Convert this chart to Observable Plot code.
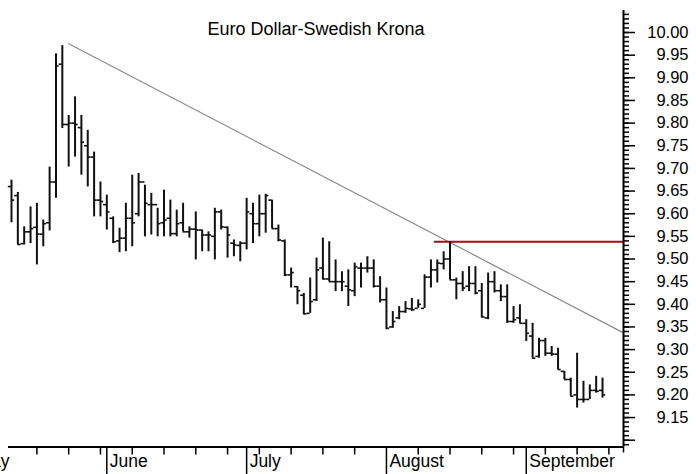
<!DOCTYPE html>
<html>
<head>
<meta charset="utf-8">
<script src="https://cdn.jsdelivr.net/npm/d3@7"></script>
<script src="https://cdn.jsdelivr.net/npm/@observablehq/plot@0.6"></script>
<style>
  html, body { margin: 0; padding: 0; background: #fff; overflow: hidden; }
  #chart svg { display: block; }
</style>
</head>
<body>
<div id="chart"></div>
<script>
// ---- Data (trading-day index 0 = 11 May 2010) ----
const title = "Euro Dollar-Swedish Krona";
const highs  = [9.674,9.647,9.571,9.615,9.623,9.586,9.703,9.953,9.971,9.817,9.858,9.817,9.784,9.736,9.670,9.641,9.593,9.568,9.623,9.685,9.689,9.663,9.645,9.612,9.652,9.630,9.608,9.623,9.571,9.604,9.564,9.560,9.612,9.608,9.571,9.542,9.538,9.634,9.623,9.641,9.643,9.630,9.575,9.542,9.480,9.439,9.424,9.458,9.502,9.546,9.538,9.498,9.472,9.476,9.491,9.491,9.505,9.498,9.461,9.436,9.384,9.395,9.406,9.413,9.410,9.465,9.498,9.498,9.516,9.538,9.458,9.472,9.483,9.483,9.446,9.469,9.472,9.443,9.443,9.395,9.399,9.366,9.358,9.325,9.325,9.307,9.303,9.252,9.237,9.292,9.230,9.222,9.241,9.237];
const lows   = [9.580,9.531,9.531,9.534,9.487,9.527,9.562,9.634,9.788,9.703,9.725,9.685,9.659,9.593,9.593,9.564,9.534,9.514,9.516,9.527,9.593,9.549,9.553,9.549,9.549,9.549,9.549,9.560,9.546,9.498,9.516,9.516,9.498,9.564,9.502,9.505,9.494,9.520,9.534,9.549,9.557,9.567,9.538,9.461,9.436,9.399,9.377,9.380,9.406,9.454,9.450,9.428,9.428,9.395,9.417,9.436,9.469,9.436,9.403,9.344,9.347,9.366,9.380,9.384,9.391,9.391,9.436,9.447,9.476,9.454,9.410,9.428,9.428,9.421,9.370,9.366,9.425,9.406,9.358,9.358,9.358,9.318,9.281,9.281,9.285,9.285,9.256,9.234,9.197,9.171,9.182,9.190,9.204,9.193];
const opens  = [9.660,9.640,9.534,9.560,9.570,9.555,9.580,9.670,9.930,9.797,9.800,9.790,9.750,9.725,9.630,9.620,9.590,9.540,9.546,9.590,9.600,9.670,9.620,9.620,9.580,9.590,9.556,9.580,9.560,9.566,9.564,9.553,9.550,9.604,9.570,9.535,9.530,9.535,9.600,9.578,9.600,9.630,9.567,9.540,9.465,9.439,9.420,9.380,9.410,9.480,9.456,9.450,9.450,9.440,9.430,9.480,9.480,9.480,9.440,9.410,9.350,9.370,9.384,9.390,9.391,9.391,9.460,9.476,9.490,9.500,9.454,9.446,9.440,9.446,9.430,9.370,9.450,9.430,9.417,9.362,9.370,9.358,9.330,9.285,9.320,9.292,9.290,9.252,9.234,9.200,9.190,9.190,9.210,9.210];
const closes = [9.630,9.532,9.560,9.567,9.555,9.578,9.670,9.926,9.797,9.800,9.797,9.758,9.725,9.630,9.627,9.604,9.538,9.546,9.590,9.580,9.670,9.623,9.620,9.578,9.586,9.556,9.578,9.560,9.566,9.564,9.553,9.553,9.604,9.571,9.553,9.531,9.535,9.604,9.578,9.600,9.640,9.567,9.542,9.465,9.470,9.430,9.379,9.406,9.476,9.456,9.450,9.450,9.450,9.432,9.483,9.480,9.480,9.440,9.410,9.347,9.362,9.384,9.391,9.388,9.400,9.460,9.476,9.491,9.500,9.454,9.446,9.436,9.446,9.425,9.372,9.450,9.430,9.417,9.362,9.366,9.358,9.336,9.281,9.320,9.292,9.290,9.256,9.234,9.197,9.190,9.190,9.210,9.208,9.200];

// Trend line and resistance line (index, price)
const trendIdx = [9, 96.3];
const trendVal = [9.975, 9.337];
const resistIdx = [66.6, 96.3];
const resistVal = [9.538, 9.538];

// Axis ticks
const monthIdx = [15, 37, 59, 81];
const monthLabels = ["June", "July", "August", "September"];
const weekIdx = [4, 9, 14, 19, 24, 29, 34, 39, 44, 49, 54, 64, 69, 74, 79, 84, 89, 94];
const yMajor = [9.10,9.15,9.20,9.25,9.30,9.35,9.40,9.45,9.50,9.55,9.60,9.65,9.70,9.75,9.80,9.85,9.90,9.95,10.00];
const yLabels = ["9.15","9.20","9.25","9.30","9.35","9.40","9.45","9.50","9.55","9.60","9.65","9.70","9.75","9.80","9.85","9.90","9.95","10.00"];
const yMinor = d3.range(909, 1005).map(v => v / 100);
const xDomain = [-0.47, 96.3];
const yDomain = [9.085, 10.0486];

// ---- Build tables ----
const bars = highs.map((h, i) => ({i, high: h, low: lows[i], open: opens[i], close: closes[i]}));
const trend = trendIdx.map((x, k) => ({x, y: trendVal[k]}));
const resist = resistIdx.map((x, k) => ({x, y: resistVal[k]}));
const months = monthIdx.map((x, k) => ({x, label: monthLabels[k]}));
const yLab = yLabels.map(s => ({y: +s, label: s}));

const font = "'Liberation Sans', Arial, Helvetica, sans-serif";

const chart = Plot.plot({
  width: 696,
  height: 474,
  marginLeft: 8,
  marginRight: 73,
  marginTop: 10,
  marginBottom: 27.5,
  style: {fontFamily: font, fontSize: "16px", background: "#fff", color: "#000"},
  x: {type: "linear", domain: xDomain, axis: null},
  y: {type: "linear", domain: yDomain, axis: null},
  marks: [
    // resistance and trend lines
    Plot.line(trend, {x: "x", y: "y", stroke: "#8a8a8a", strokeWidth: 1.2}),
    Plot.line(resist, {x: "x", y: "y", stroke: "#a50f15", strokeWidth: 2}),
    // OHLC bars
    Plot.ruleX(bars, {x: "i", y1: "low", y2: "high", stroke: "#111", strokeWidth: 2}),
    Plot.ruleY(bars, {y: "open", x1: d => d.i - 0.5, x2: "i", stroke: "#111", strokeWidth: 1.6}),
    Plot.ruleY(bars, {y: "close", x1: "i", x2: d => d.i + 0.5, stroke: "#111", strokeWidth: 1.6}),
    // axis lines
    Plot.ruleX([xDomain[1]], {stroke: "#000", strokeWidth: 2}),
    Plot.ruleY([yDomain[0]], {stroke: "#000", strokeWidth: 2}),
    // y ticks (right)
    Plot.axisY(yMinor, {anchor: "right", tickSize: 5, text: null, stroke: "#000", strokeWidth: 1.5}),
    Plot.axisY(yMajor, {anchor: "right", tickSize: 11, text: null, stroke: "#000", strokeWidth: 1.5}),
    Plot.text(yLab, {y: "y", text: "label", frameAnchor: "right", dx: 65, textAnchor: "end", fill: "#000", fontSize: 16.5}),
    // x ticks (bottom)
    Plot.axisX(weekIdx, {anchor: "bottom", tickSize: 8, text: null, stroke: "#000", strokeWidth: 1.5}),
    Plot.axisX(monthIdx, {anchor: "bottom", tickSize: 28, text: null, stroke: "#000", strokeWidth: 1.5}),
    Plot.axisX([xDomain[1]], {anchor: "bottom", tickSize: 6, text: null, stroke: "#000", strokeWidth: 1.5}),
    Plot.text(months, {x: "x", text: "label", frameAnchor: "bottom", dy: 19.5, dx: 3, textAnchor: "start", fill: "#000", fontSize: 17.5}),
    Plot.text(["May"], {frameAnchor: "bottom-left", dy: 19.5, dx: 1, textAnchor: "end", fill: "#000", fontSize: 17.5}),
    // title
    Plot.text([title], {frameAnchor: "top", dy: 11.5, fill: "#000", fontSize: 18})
  ]
});
document.getElementById("chart").appendChild(chart);
</script>
</body>
</html>
